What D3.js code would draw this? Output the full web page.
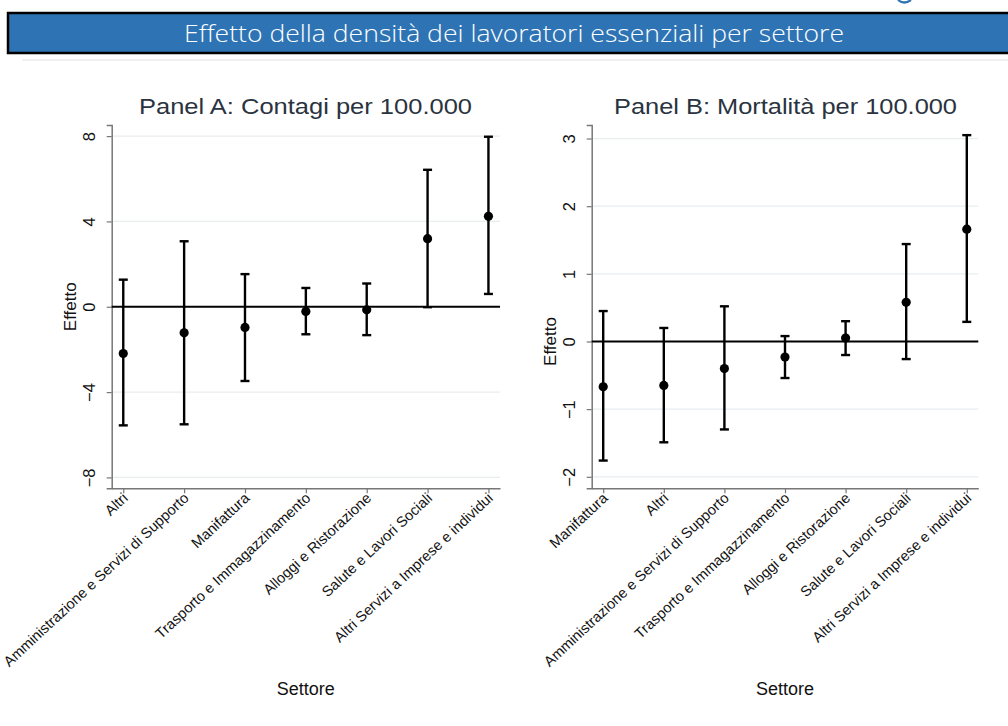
<!DOCTYPE html>
<html>
<head>
<meta charset="utf-8">
<script src="https://cdn.jsdelivr.net/npm/d3@7"></script>
<style>
  html, body { margin: 0; padding: 0; background: #fff; }
  svg { display: block; }
</style>
</head>
<body>
<svg id="chart" width="1008" height="726"></svg>
<script>
// Sectors, in plotted order for each panel
const sectorsA = ["Altri", "Amministrazione e Servizi di Supporto", "Manifattura",
  "Trasporto e Immagazzinamento", "Alloggi e Ristorazione", "Salute e Lavori Sociali",
  "Altri Servizi a Imprese e individui"];
const sectorsB = ["Manifattura", "Altri", "Amministrazione e Servizi di Supporto",
  "Trasporto e Immagazzinamento", "Alloggi e Ristorazione", "Salute e Lavori Sociali",
  "Altri Servizi a Imprese e individui"];

// Panel A: contagi per 100.000 — point estimate and confidence bounds
const effectA = [-2.19, -1.22, -0.97, -0.22, -0.14, 3.19, 4.24];
const lowerA  = [-5.56, -5.51, -3.48, -1.29, -1.33, -0.02, 0.60];
const upperA  = [ 1.27,  3.07,  1.53,  0.88,  1.09, 6.42, 7.97];

// Panel B: mortalità per 100.000
const effectB = [-0.67, -0.65, -0.40, -0.23, 0.05, 0.58, 1.66];
const lowerB  = [-1.76, -1.49, -1.30, -0.54, -0.20, -0.26, 0.29];
const upperB  = [ 0.45,  0.20,  0.52,  0.08,  0.30, 1.44, 3.05];

// Y-axis ticks
const ticksA = [-8, -4, 0, 4, 8];
const ticksB = [-2, -1, 0, 1, 2, 3];

const svg = d3.select("#chart");
const FONT = "'Liberation Sans', Arial, sans-serif";

// Banner
svg.append("rect")
  .attr("x", 8).attr("y", 13).attr("width", 1010).attr("height", 40)
  .attr("fill", "#2e74b5").attr("stroke", "#000").attr("stroke-width", 2.5);
svg.append("text")
  .attr("x", 514).attr("y", 42)
  .attr("text-anchor", "middle")
  .attr("fill", "#fff")
  .attr("font-family", "'Open Sans', Lato, sans-serif")
  .attr("font-weight", 300)
  .attr("font-size", 24)
  .attr("textLength", 660).attr("lengthAdjust", "spacingAndGlyphs")
  .text("Effetto della densità dei lavoratori essenziali per settore");
// tail of the page heading's descender peeking above the banner
svg.append("path")
  .attr("d", "M898,0 Q904,5 911,0")
  .attr("fill", "none").attr("stroke", "#2e74b5").attr("stroke-width", 2.2);
svg.append("line")
  .attr("x1", 22).attr("x2", 1008).attr("y1", 60).attr("y2", 60)
  .attr("stroke", "#f0f0f0").attr("stroke-width", 2);

function panel(opts) {
  const { left, right, top, bottom, domain, ticks, cats, est, lo, hi, title, titleX, titleLen } = opts;
  const g = svg.append("g");

  const x = d3.scalePoint().domain(cats).range([left, right]).padding(0.19);
  const y = d3.scaleLinear().domain(domain).range([bottom, top]);

  // title
  g.append("text")
    .attr("x", titleX).attr("y", 114)
    .attr("text-anchor", "middle")
    .attr("fill", "#2a3340")
    .attr("font-family", FONT).attr("font-size", 22)
    .attr("textLength", titleLen).attr("lengthAdjust", "spacingAndGlyphs")
    .text(title);

  // grid
  g.selectAll("line.grid").data(ticks.filter(t => t !== 0)).join("line")
    .attr("class", "grid")
    .attr("x1", left).attr("x2", right)
    .attr("y1", d => y(d)).attr("y2", d => y(d))
    .attr("stroke", "#e8edf0").attr("stroke-width", 1.2);

  // y axis
  const yAxis = g.append("g")
    .attr("transform", `translate(${left},0)`)
    .call(d3.axisLeft(y).tickValues(ticks).tickSize(5).tickPadding(6).tickFormat(d3.format("d")));
  yAxis.select(".domain").attr("stroke", "#777").attr("stroke-width", 1.5);
  yAxis.selectAll(".tick line").attr("stroke", "#777").attr("stroke-width", 1.2);
  yAxis.selectAll(".tick text")
    .attr("font-family", FONT).attr("font-size", 16.5).attr("fill", "#111")
    .attr("text-anchor", "middle")
    .attr("x", 0).attr("dy", 0)
    .attr("transform", "translate(-17,0) rotate(-90)");

  // x axis
  const xAxis = g.append("g")
    .attr("transform", `translate(0,${bottom})`)
    .call(d3.axisBottom(x).tickSize(5).tickSizeOuter(0).tickPadding(4));
  xAxis.select(".domain").attr("stroke", "#777").attr("stroke-width", 1.5);
  xAxis.selectAll(".tick line").attr("stroke", "#777").attr("stroke-width", 1.2);
  xAxis.selectAll(".tick text")
    .attr("font-family", FONT).attr("font-size", 14.6).attr("fill", "#111")
    .attr("text-anchor", "end")
    .attr("x", 0).attr("y", 0).attr("dy", 0)
    .attr("transform", "translate(5,11) rotate(-43)");

  // y label
  g.append("text")
    .attr("transform", `translate(${left - 36},${y(0)}) rotate(-90)`)
    .attr("text-anchor", "middle")
    .attr("font-family", FONT).attr("font-size", 17).attr("fill", "#111")
    .text("Effetto");

  // x label
  g.append("text")
    .attr("x", (left + right) / 2).attr("y", 695)
    .attr("text-anchor", "middle")
    .attr("font-family", FONT).attr("font-size", 18).attr("fill", "#111")
    .text("Settore");

  // zero reference line
  g.append("line")
    .attr("x1", left).attr("x2", right)
    .attr("y1", y(0)).attr("y2", y(0))
    .attr("stroke", "#000").attr("stroke-width", 2);

  const rows = cats.map((c, i) => ({ c, est: est[i], lo: lo[i], hi: hi[i] }));
  const cap = 4.5;

  g.selectAll("line.ci").data(rows).join("line")
    .attr("class", "ci")
    .attr("x1", d => x(d.c)).attr("x2", d => x(d.c))
    .attr("y1", d => y(d.lo)).attr("y2", d => y(d.hi))
    .attr("stroke", "#000").attr("stroke-width", 2.4);
  g.selectAll("line.capHi").data(rows).join("line")
    .attr("class", "capHi")
    .attr("x1", d => x(d.c) - cap).attr("x2", d => x(d.c) + cap)
    .attr("y1", d => y(d.hi)).attr("y2", d => y(d.hi))
    .attr("stroke", "#000").attr("stroke-width", 2.4);
  g.selectAll("line.capLo").data(rows).join("line")
    .attr("class", "capLo")
    .attr("x1", d => x(d.c) - cap).attr("x2", d => x(d.c) + cap)
    .attr("y1", d => y(d.lo)).attr("y2", d => y(d.lo))
    .attr("stroke", "#000").attr("stroke-width", 2.4);
  g.selectAll("circle.est").data(rows).join("circle")
    .attr("class", "est")
    .attr("cx", d => x(d.c)).attr("cy", d => y(d.est))
    .attr("r", 4.6).attr("fill", "#000");
}

panel({
  left: 111.7, right: 500, top: 125, bottom: 488.3,
  domain: [-8.51, 8.52], ticks: ticksA,
  cats: sectorsA, est: effectA, lo: lowerA, hi: upperA,
  title: "Panel A: Contagi per 100.000", titleX: 305.5, titleLen: 333
});
panel({
  left: 591.7, right: 978.3, top: 125, bottom: 488.3,
  domain: [-2.17, 3.2], ticks: ticksB,
  cats: sectorsB, est: effectB, lo: lowerB, hi: upperB,
  title: "Panel B: Mortalità per 100.000", titleX: 785.5, titleLen: 343
});
</script>
</body>
</html>
